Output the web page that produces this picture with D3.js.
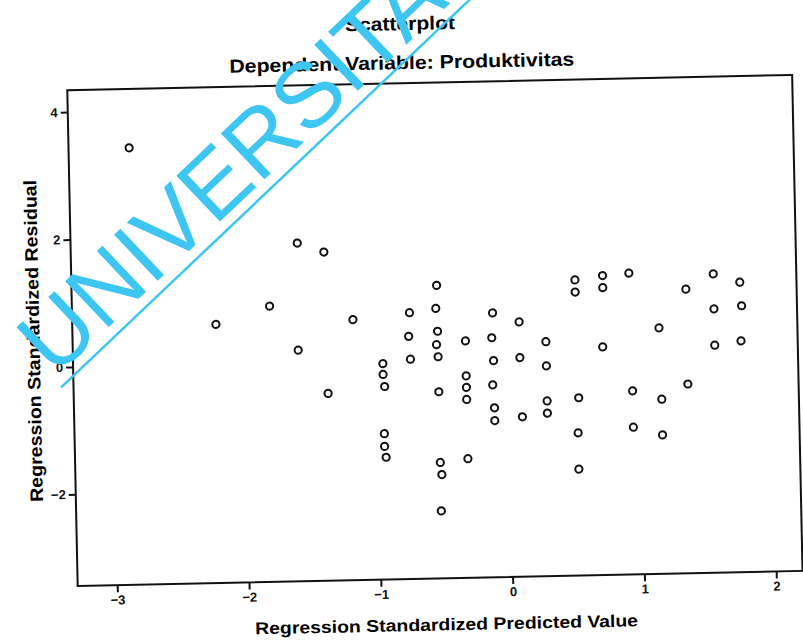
<!DOCTYPE html>
<html>
<head>
<meta charset="utf-8">
<script src="https://cdn.jsdelivr.net/npm/d3@7"></script>
<style>
  body { margin: 0; background: #fff; }
  text { font-family: "Liberation Sans", Arial, sans-serif; }
</style>
</head>
<body>
<div id="scatter"></div>
<script>
// SPSS residual scatterplot (scanned page, slightly tilted)
let svgwidth = 803;
let svgheight = 640;

// regression standardized predicted value (x) and residual (y)
let predicted = [-2.84, -1.58, -1.38, -1.80, -2.21, -1.59, -1.37, -1.17, -0.53, -0.74,
    -0.54, -0.11, 0.09, -0.75, -0.53, -0.54, -0.53, -0.32, -0.12, 0.29,
    -0.74, -0.11, 0.09, 0.29, -0.95, -0.95, -0.94, -0.53, -0.32, -0.32,
    -0.32, -0.12, -0.11, -0.11, 0.10, 0.29, 0.29, -0.95, -0.95, -0.94,
    -0.53, -0.52, -0.32, -0.53, 0.52, 0.52, 0.73, 0.73, 0.93, 1.57,
    1.77, 1.36, 1.57, 1.78, 1.15, 0.72, 1.57, 1.77, 0.53, 0.52,
    0.52, 0.94, 1.16, 1.36, 0.94, 1.16];
let residual = [3.42, 1.87, 1.72, 0.89, 0.62, 0.19, -0.50, 0.65, 1.16, 0.74,
    0.80, 0.71, 0.56, 0.37, 0.44, 0.23, 0.04, 0.28, 0.32, 0.24,
    0.01, -0.04, 0.00, -0.14, -0.05, -0.22, -0.41, -0.51, -0.27, -0.45,
    -0.64, -0.42, -0.78, -0.98, -0.93, -0.69, -0.88, -1.15, -1.35, -1.52,
    -1.62, -1.81, -1.57, -2.38, 1.20, 1.01, 1.26, 1.07, 1.29, 1.25,
    1.11, 1.02, 0.70, 0.74, 0.42, 0.14, 0.13, 0.19, -0.65, -1.20,
    -1.77, -0.56, -0.70, -0.47, -1.13, -1.26];

let xTicks = [-3, -2, -1, 0, 1, 2];
let yTicks = [-2, 0, 2, 4];

let points = predicted.map((p, i) => ({x: p, y: residual[i]}));

let svg = d3.select('#scatter')
    .append('svg')
    .attr('width', svgwidth)
    .attr('height', svgheight);

svg.append('rect')
    .attr('width', svgwidth)
    .attr('height', svgheight)
    .attr('fill', '#fff');

// whole page is tilted a little in the scan
let page = svg.append('g')
    .attr('transform', 'rotate(-1.2, 508, 358)');

let frame = {left: 73, right: 798, top: 81, bottom: 577};

let xscale = d3.scaleLinear()
    .domain([-3.30, 2.20])
    .range([frame.left, frame.right]);

let yscale = d3.scaleLinear()
    .domain([-3.44, 4.36])
    .range([frame.bottom, 80]);

// titles
page.append('text')
    .attr('x', 407)
    .attr('y', 28)
    .attr('text-anchor', 'middle')
    .attr('font-size', '19px')
    .attr('font-weight', 'bold')
    .attr('textLength', 110)
    .attr('lengthAdjust', 'spacingAndGlyphs')
    .text('Scatterplot');

page.append('text')
    .attr('x', 408)
    .attr('y', 67)
    .attr('text-anchor', 'middle')
    .attr('font-size', '19px')
    .attr('font-weight', 'bold')
    .attr('textLength', 345)
    .attr('lengthAdjust', 'spacingAndGlyphs')
    .text('Dependent Variable: Produktivitas');

// plot frame
page.append('rect')
    .attr('x', frame.left)
    .attr('y', frame.top)
    .attr('width', frame.right - frame.left)
    .attr('height', frame.bottom - frame.top)
    .attr('fill', 'none')
    .attr('stroke', '#111')
    .attr('stroke-width', 2);

// axes
let bottomAxis = d3.axisBottom(xscale)
    .tickValues(xTicks)
    .tickFormat(d3.format('d'))
    .tickSize(7)
    .tickPadding(3);

let leftAxis = d3.axisLeft(yscale)
    .tickValues(yTicks)
    .tickFormat(d3.format('d'))
    .tickSize(7)
    .tickPadding(3);

let XAxiss = page.append('g')
    .attr('transform', `translate(0, ${frame.bottom})`)
    .call(bottomAxis);

let YAxiss = page.append('g')
    .attr('transform', `translate(${frame.left}, 0)`)
    .call(leftAxis);

[XAxiss, YAxiss].forEach(function(ax) {
    ax.select('.domain').remove();
    ax.selectAll('line').attr('stroke', '#111').attr('stroke-width', 2);
    ax.selectAll('text')
        .attr('fill', '#111')
        .attr('font-size', '13px')
        .attr('font-weight', 'bold')
        .attr('font-family', '"Liberation Sans", Arial, sans-serif');
});

// axis titles
page.append('text')
    .attr('x', 441)
    .attr('y', 629)
    .attr('text-anchor', 'middle')
    .attr('font-size', '17px')
    .attr('font-weight', 'bold')
    .attr('textLength', 383)
    .attr('lengthAdjust', 'spacingAndGlyphs')
    .text('Regression Standardized Predicted Value');

page.append('text')
    .attr('transform', 'translate(40, 331) rotate(-90)')
    .attr('text-anchor', 'middle')
    .attr('font-size', '18px')
    .attr('font-weight', 'bold')
    .attr('textLength', 322)
    .attr('lengthAdjust', 'spacingAndGlyphs')
    .text('Regression Standardized Residual');

// points
page.selectAll('circle')
    .data(points)
    .enter()
    .append('circle')
    .attr('cx', d => xscale(d.x))
    .attr('cy', d => yscale(d.y))
    .attr('r', 3.6)
    .attr('fill', 'none')
    .attr('stroke', '#111')
    .attr('stroke-width', 2);

// cyan watermark on top of the scan
let mark = svg.append('g')
    .attr('transform', 'translate(55, 378) rotate(-43.5)');

mark.append('text')
    .attr('x', 0)
    .attr('y', 0)
    .attr('font-size', '92px')
    .attr('fill', '#3ec6f3')
    .text('UNIVERSITAS');

mark.append('line')
    .attr('x1', -2)
    .attr('y1', 11)
    .attr('x2', 700)
    .attr('y2', 11)
    .attr('stroke', '#3ec6f3')
    .attr('stroke-width', 2.5);
</script>
</body>
</html>
